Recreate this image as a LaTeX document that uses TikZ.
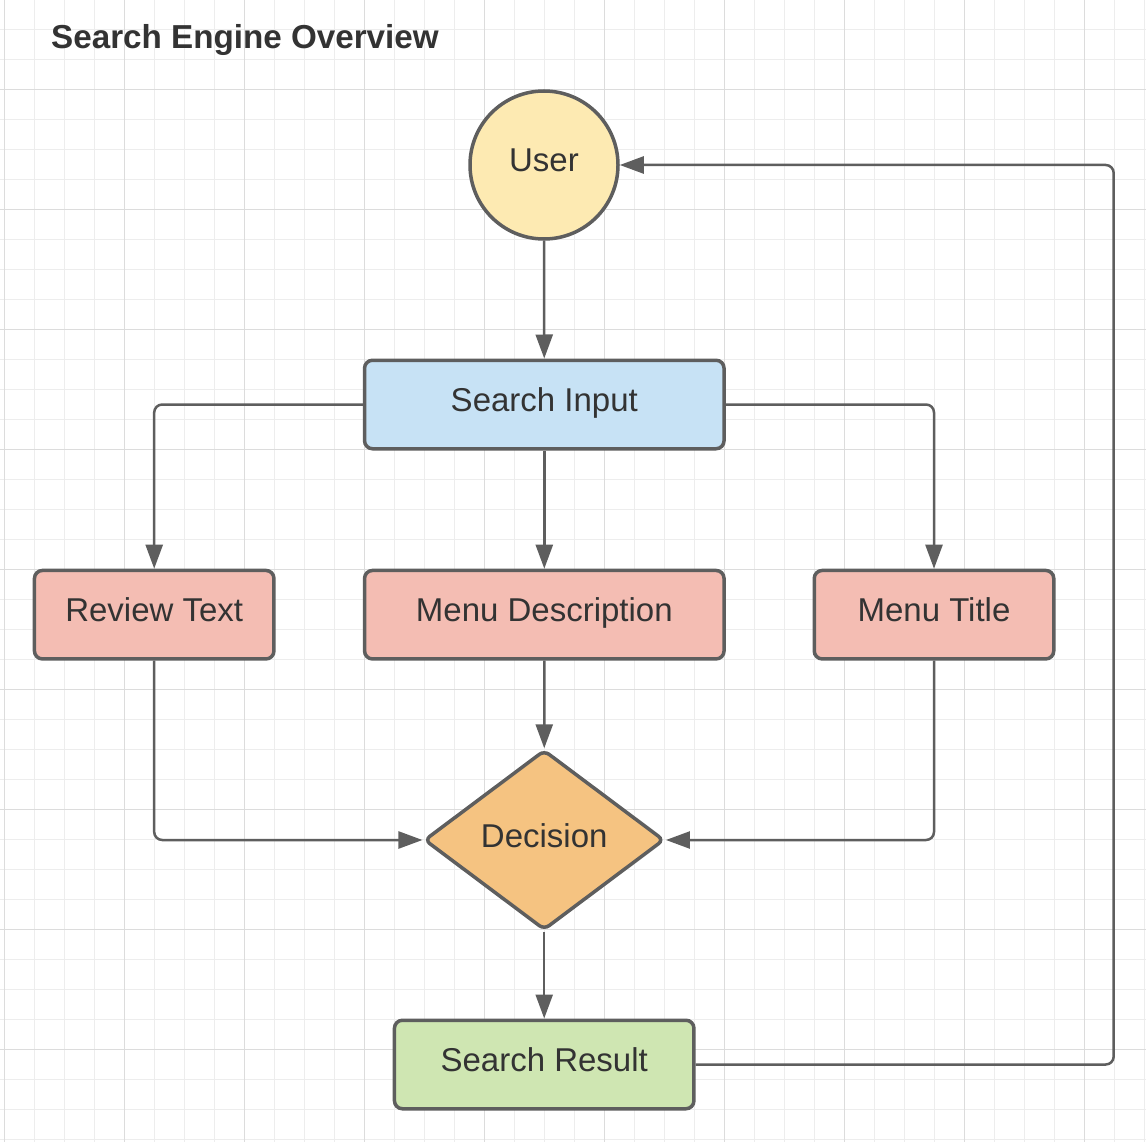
\documentclass[tikz,border=0pt]{standalone}
\usepackage{fontspec}
\setmainfont{Liberation Sans}
\usetikzlibrary{shapes.geometric,arrows.meta}

\definecolor{linegray}{HTML}{5E5E5E}
\definecolor{textgray}{HTML}{333333}
\definecolor{gridminor}{HTML}{EDEDED}
\definecolor{gridmajor}{HTML}{DCDCDC}
\definecolor{userfill}{HTML}{FDEAB2}
\definecolor{inputfill}{HTML}{C7E2F5}
\definecolor{fieldfill}{HTML}{F4BDB3}
\definecolor{decidefill}{HTML}{F5C381}
\definecolor{resultfill}{HTML}{CFE6B2}

\tikzset{
  box/.style={draw=linegray, line width=3.5pt, rounded corners=8pt, inner sep=0pt,
    minimum height=88.5pt, text height=23pt, text depth=9pt, text=textgray,
    font=\fontsize{33}{39}\selectfont},
  flow/.style={draw=linegray, line width=2.5pt, rounded corners=8pt,
    -{Triangle[length=24pt,width=17pt]}},
}

\begin{document}
\begin{tikzpicture}[x=1pt,y=-1pt]
    \useasboundingbox[fill=white] (0,0) rectangle (1146,1142);

    % Draw the grid cells
    \foreach \x in {4.3,34.3,...,1145}
        \draw[gridminor, line width=1pt] (\x,0) -- (\x,1142);
    \foreach \y in {29.3,59.3,...,1142}
        \draw[gridminor, line width=1pt] (0,\y) -- (1146,\y);
    \foreach \x in {4.3,124.3,...,1145}
        \draw[gridmajor, line width=1pt] (\x,0) -- (\x,1142);
    \foreach \y in {89.3,209.3,...,1142}
        \draw[gridmajor, line width=1pt] (0,\y) -- (1146,\y);

    % Title
    \node[anchor=base west, inner sep=0pt, text=textgray,
          font=\fontsize{33.2}{40}\selectfont\bfseries] (title) at (51,49) {Search Engine Overview};

    % Nodes
    \node[box, circle, rounded corners=0pt, fill=userfill, minimum size=148pt] (user) at (544,165) {User};
    \node[box, fill=inputfill, minimum width=359.5pt] (input) at (544.3,404.5) {Search Input};
    \node[box, fill=fieldfill, minimum width=239.5pt] (review) at (154.2,614.7) {Review Text};
    \node[box, fill=fieldfill, minimum width=359.5pt] (mdesc) at (544.3,614.7) {Menu Description};
    \node[box, fill=fieldfill, minimum width=239.5pt] (mtitle) at (934,614.7) {Menu Title};
    \node[box, diamond, rounded corners=6pt, fill=decidefill, minimum width=240pt,
          minimum height=180pt] (decision) at (544.2,840) {Decision};
    \node[box, fill=resultfill, minimum width=299.5pt] (result) at (544.2,1064.5) {Search Result};

    % Connectors
    \coordinate (back) at (1113.7,165);
    \draw[flow] (user) -- (input);
    \draw[flow] (input.west) -| (review.north);
    \draw[flow] (input) -- (mdesc);
    \draw[flow] (input.east) -| (mtitle.north);
    \draw[flow] (mdesc) -- (decision);
    \draw[flow] (review.south) |- (decision.west);
    \draw[flow] (mtitle.south) |- (decision.east);
    \draw[flow] (decision) -- (result);
    \draw[flow] (result.east) -| (back) -- (user.east);
\end{tikzpicture}
\end{document}
